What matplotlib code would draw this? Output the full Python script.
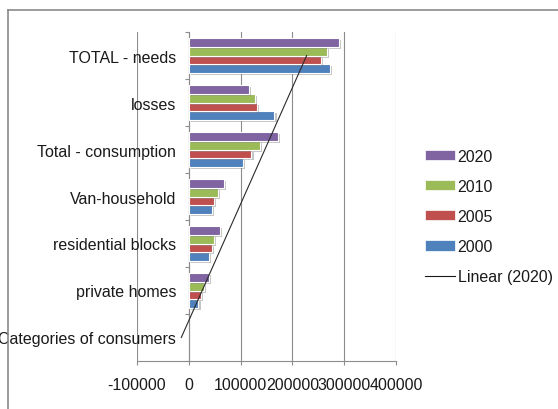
import numpy as np
import matplotlib
matplotlib.use("Agg")
import matplotlib.pyplot as plt
from matplotlib.patches import Patch
from matplotlib.lines import Line2D
import matplotlib.patheffects as pe

plt.rcParams['font.family'] = ['Liberation Sans', 'DejaVu Sans']

# Consumer categories, listed bottom to top
categories = ["Categories of consumers", "private homes", "residential blocks",
              "Van-household", "Total - consumption", "losses", "TOTAL - needs"]

# Consumption per category and year (the header row holds no value)
v2000 = [np.nan, 18600, 39800, 44200, 105000, 165400, 272500]
v2005 = [np.nan, 23700, 44200, 49400, 121000, 130800, 255000]
v2010 = [np.nan, 29500, 49400, 55800, 137900, 127000, 266000]
v2020 = [np.nan, 39800, 61000, 68000, 172500, 115400, 289000]

series = [("2000", v2000, "#4F81BD"),
          ("2005", v2005, "#C0504D"),
          ("2010", v2010, "#9BBB59"),
          ("2020", v2020, "#8064A2")]

xticks = [-100000, 0, 100000, 200000, 300000, 400000]

fig = plt.figure(figsize=(5.58, 4.10), dpi=100)
ax = fig.add_axes([137 / 558, 1 - 362 / 410, 259 / 558, 329 / 410])

grid_c = "#8c8c8c"
text_c = "#1a1a1a"
fs = 11.5

y = np.arange(len(categories))
slot = 1 / (4 + 1.5)
shadow = [pe.SimplePatchShadow(offset=(1.5, -1.5), shadow_rgbFace="#7f7f7f", alpha=0.45),
          pe.Normal()]
for i, (name, vals, col) in enumerate(series):
    ax.barh(y + (i - 1.5) * slot, vals, height=slot, color=col,
            edgecolor="white", linewidth=0.8, zorder=3, path_effects=shadow)

# Linear trend of the 2020 series over the category index (blank counted as zero)
idx = np.arange(1, len(categories) + 1)
vals20 = np.nan_to_num(np.array(v2020, dtype=float))
k, b = np.polyfit(idx, vals20, 1)
trend = k * idx + b
ax.plot(trend, y, color="#2a2a2a", lw=0.8, zorder=4)

ax.set_xlim(-100000, 400000)
ax.set_ylim(-0.5, len(categories) - 0.5)

ax.set_xticks(xticks)
ax.set_xticklabels([str(t) for t in xticks])
for t in xticks:
    ax.axvline(t, color=grid_c, lw=0.8, zorder=1)

ax.set_yticks(y)
ax.set_yticklabels(categories)
ax.set_yticks(np.arange(-0.5, len(categories)), minor=True)

for s in ["top", "right"]:
    ax.spines[s].set_visible(False)
ax.spines["left"].set_position(("data", 0))
ax.spines["left"].set_color(grid_c)
ax.spines["left"].set_zorder(2)
ax.spines["bottom"].set_color(grid_c)

ax.tick_params(axis="y", which="major", length=0, pad=9.0, labelsize=fs, labelcolor=text_c)
ax.tick_params(axis="y", which="minor", length=3, direction="out", color=grid_c, width=0.8)
ax.tick_params(axis="x", length=3, direction="out", color=grid_c, width=0.8,
               pad=8.5, labelsize=fs, labelcolor=text_c)
for lbl in ax.get_yticklabels():
    lbl.set_zorder(5)

# Legend: bars listed newest first, then the trend line
handles = [Patch(facecolor=c, edgecolor="white", linewidth=0.5) for _, _, c in reversed(series)]
handles.append(Line2D([0], [0], color="#1a1a1a", lw=0.8))
labels = [n for n, _, _ in reversed(series)] + ["Linear (2020)"]
fig.legend(handles, labels, loc="center left", bbox_to_anchor=(425 / 558, 1 - 217.5 / 410),
           frameon=False, fontsize=fs, handlelength=1.85, handleheight=0.6,
           handletextpad=0.2, labelspacing=0.95, borderpad=0, borderaxespad=0,
           labelcolor=text_c)

# Chart area border
fig.add_artist(Line2D([8 / 558, 8 / 558], [0, 1 - 11 / 410], transform=fig.transFigure,
                      color="#8a8a8a", lw=1.2))
fig.add_artist(Line2D([8 / 558, 1], [1 - 11 / 410, 1 - 11 / 410], transform=fig.transFigure,
                      color="#8a8a8a", lw=1.2))

fig.savefig("out.png", dpi=100)
